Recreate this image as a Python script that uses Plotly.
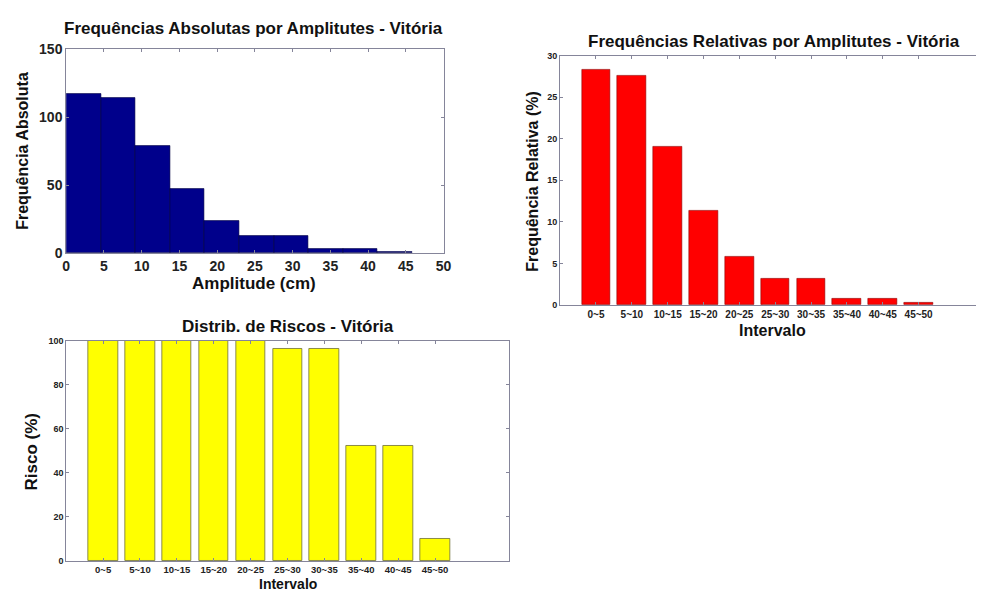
import plotly.graph_objects as go

# ---------------- data ----------------
abs_counts = [117, 114, 79, 47, 24, 13, 13, 3, 3, 1]
bin_width = 4.585
bin_start = 0.0

intervals = ["0~5", "5~10", "10~15", "15~20", "20~25", "25~30", "30~35", "35~40", "40~45", "45~50"]
rel_freq = [28.26, 27.54, 19.08, 11.35, 5.80, 3.14, 3.14, 0.72, 0.72, 0.24]
risk = [100, 100, 100, 100, 100, 96.3, 96.3, 52.1, 52.1, 9.9]

abs_yticks = [0, 50, 100, 150]
abs_xticks = [0, 5, 10, 15, 20, 25, 30, 35, 40, 45, 50]
rel_yticks = [0, 5, 10, 15, 20, 25, 30]
risk_yticks = [0, 20, 40, 60, 80, 100]

W, H = 984, 601
FONT = "Liberation Sans, Arial, sans-serif"

def px(x):
    return x / W

def py(y):
    return 1 - y / H

centers = [bin_start + bin_width * (i + 0.5) for i in range(len(abs_counts))]
cat_pos = list(range(1, len(intervals) + 1))

fig = go.Figure()
fig.add_trace(go.Bar(x=centers, y=abs_counts, width=bin_width,
                     marker=dict(color="#00008B", line=dict(color="#000040", width=0.6)),
                     xaxis="x", yaxis="y", showlegend=False))
fig.add_trace(go.Bar(x=cat_pos, y=rel_freq, width=0.8,
                     marker=dict(color="#FF0000", line=dict(color="#8B0000", width=0.6)),
                     xaxis="x2", yaxis="y2", showlegend=False))
fig.add_trace(go.Bar(x=cat_pos, y=risk, width=0.8,
                     marker=dict(color="#FFFF00", line=dict(color="#6e6e3a", width=0.8)),
                     xaxis="x3", yaxis="y3", showlegend=False))

axcol = "#85859a"
big_tick = dict(family=FONT, size=14, color="#222222")
small_tick = dict(family=FONT, size=9, color="#222222")
cat_tick = dict(family=FONT, size=10, color="#222222")
cat_tick_b = dict(family=FONT, size=9.5, color="#222222")

common = dict(showgrid=False, zeroline=False, showline=True, linecolor=axcol, linewidth=1,
              ticks="inside", ticklen=3, tickcolor=axcol, fixedrange=True)

fig.update_layout(
    width=W, height=H, margin=dict(l=0, r=0, t=0, b=0),
    paper_bgcolor="white", plot_bgcolor="white",
    bargap=0,
    xaxis=dict(domain=[px(63), px(445)], anchor="y", range=[0, 50],
               tickvals=abs_xticks, ticktext=[f"<b>{v}</b>" for v in abs_xticks],
               tickfont=big_tick, mirror="ticks", **common),
    yaxis=dict(domain=[py(252), py(42)], anchor="x", range=[0, 150],
               tickvals=abs_yticks, ticktext=[f"<b>{v}</b>" for v in abs_yticks],
               tickfont=big_tick, mirror="ticks", **common),
    xaxis2=dict(domain=[px(563), 1.0], anchor="y2", range=[0, 11.6],
                tickvals=cat_pos, ticktext=[f"<b>{t}</b>" for t in intervals],
                tickfont=cat_tick, tickangle=0,
                mirror="ticks", **common),
    yaxis2=dict(domain=[py(305), py(49)], anchor="x2", range=[0, 30],
                tickvals=rel_yticks, ticktext=[f"<b>{v}</b>" for v in rel_yticks],
                tickfont=small_tick, mirror=False, **common),
    xaxis3=dict(domain=[px(63), px(511)], anchor="y3", range=[0, 12],
                tickvals=cat_pos, ticktext=[f"<b>{t}</b>" for t in intervals],
                tickfont=cat_tick_b, tickangle=0,
                mirror="ticks", **common),
    yaxis3=dict(domain=[py(568), py(342)], anchor="x3", range=[0, 100],
                tickvals=risk_yticks, ticktext=[f"<b>{v}</b>" for v in risk_yticks],
                tickfont=small_tick, mirror="ticks", **common),
)

def ann(text, x, y, size, angle=0, yanchor="middle"):
    fig.add_annotation(text=f"<b>{text}</b>", x=px(x), y=py(y), xref="paper", yref="paper",
                       showarrow=False, textangle=angle, xanchor="center", yanchor=yanchor,
                       borderpad=0,
                       font=dict(family=FONT, size=size, color="#111111"))

ann("Frequências Absolutas por Amplitutes - Vitória", 253, 21, 17)
ann("Amplitude (cm)", 253, 283, 17)
ann("Frequência Absoluta", 18, 147, 16, -90)

ann("Frequências Relativas por Amplitutes - Vitória", 779, 34, 17)
ann("Frequência Relativa (%)", 535, 178, 16, -90)
ann("Intervalo", 778, 331, 16)

ann("Distrib. de Riscos - Vitória", 287, 327, 17)
ann("Risco (%)", 28, 456, 17, -90)
ann("Intervalo", 287, 601, 14, yanchor="bottom")

post = (
    "document.documentElement.style.margin='0';"
    "document.documentElement.style.overflow='hidden';"
    "document.body.style.margin='0';"
    "document.body.style.overflow='hidden';"
    "var gd=document.getElementById('{plot_id}');"
    "gd.style.position='fixed';gd.style.left='0px';gd.style.top='0px';"
)
fig.write_html("out.html", config={"displayModeBar": False}, post_script=post)
